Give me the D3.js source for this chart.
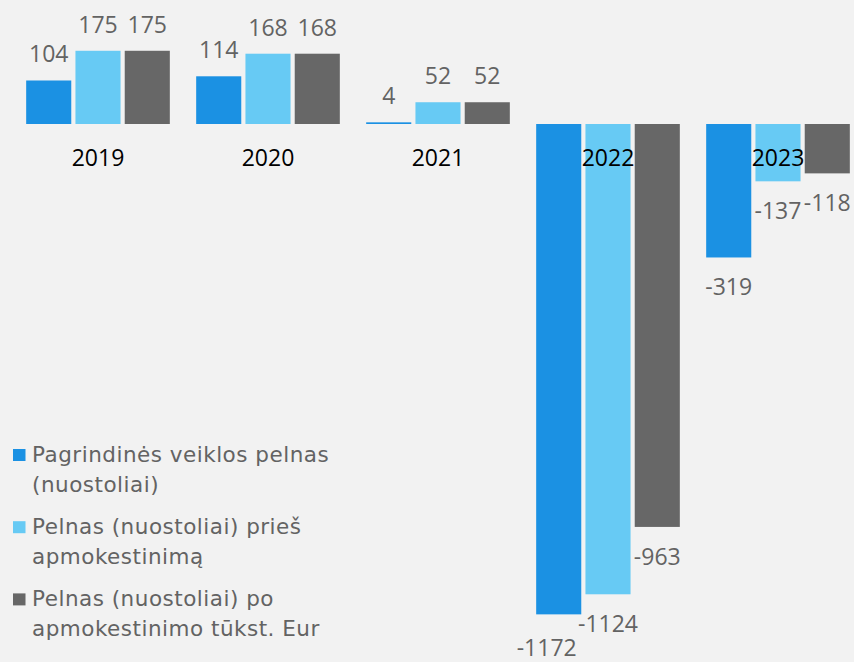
<!DOCTYPE html>
<html>
<head>
<meta charset="utf-8">
<script src="https://cdn.jsdelivr.net/npm/d3@7"></script>
<style>
  html, body { margin: 0; padding: 0; background: #f2f2f2; }
  svg { display: block; }
</style>
</head>
<body>
<svg id="chart" width="854" height="662"></svg>
<script>
const years = ["2019", "2020", "2021", "2022", "2023"];
const seriesNames = [
  ["Pagrindinės veiklos pelnas", "(nuostoliai)"],
  ["Pelnas (nuostoliai) prieš", "apmokestinimą"],
  ["Pelnas (nuostoliai) po", "apmokestinimo tūkst. Eur"]
];
const operatingProfit = [104, 114, 4, -1172, -319];
const profitBeforeTax = [175, 168, 52, -1124, -137];
const profitAfterTax = [175, 168, 52, -963, -118];
const colors = ["#1b91e3", "#67caf4", "#676767"];

const svg = d3.select("#chart");
const width = +svg.attr("width");
const height = +svg.attr("height");

const series = [operatingProfit, profitBeforeTax, profitAfterTax];
const rows = years.map((yr, i) => ({
  year: yr,
  values: series.map((s, j) => ({ key: j, value: s[i], year: yr }))
}));

const x0 = d3.scaleBand().domain(years).range([13, 863]).paddingInner(0.155).paddingOuter(0.0775);
const x1 = d3.scaleBand().domain([0, 1, 2]).range([0, x0.bandwidth()]).paddingInner(0.085);

const zeroY = 124;
const k = 0.4184;
const y = d3.scaleLinear().domain([-1400, 200]).range([zeroY + 1400 * k, zeroY - 200 * k]);

const g = svg.append("g");

const groups = g.selectAll("g.year")
  .data(rows)
  .join("g")
  .attr("class", "year")
  .attr("transform", (d) => `translate(${x0(d.year)},0)`);

groups.selectAll("rect")
  .data((d) => d.values)
  .join("rect")
  .attr("x", (d) => x1(d.key))
  .attr("width", x1.bandwidth())
  .attr("y", (d) => y(Math.max(0, d.value)))
  .attr("height", (d) => Math.max(1, Math.abs(y(d.value) - y(0))))
  .attr("fill", (d) => colors[d.key]);

// manual nudge of one label, as in the original
const nudge = { "2022-0": [-12, 4] };

groups.selectAll("text.val")
  .data((d) => d.values)
  .join("text")
  .attr("class", "val")
  .attr("x", (d) => x1(d.key) + x1.bandwidth() / 2 + (nudge[d.year + "-" + d.key] || [0, 0])[0])
  .attr("y", (d) => (d.value >= 0 ? y(d.value) - 18 : y(d.value) + 38) + (nudge[d.year + "-" + d.key] || [0, 0])[1])
  .attr("text-anchor", "middle")
  .attr("font-family", "'Open Sans', sans-serif")
  .attr("font-size", 23)
  .attr("fill", "#636363")
  .text((d) => d.value);

g.selectAll("text.yr")
  .data(years)
  .join("text")
  .attr("class", "yr")
  .attr("x", (d) => x0(d) + x0.bandwidth() / 2)
  .attr("y", 166)
  .attr("text-anchor", "middle")
  .attr("font-family", "'Open Sans', sans-serif")
  .attr("font-size", 23)
  .attr("fill", "#000")
  .text((d) => d);

// legend
const legend = svg.append("g").attr("transform", "translate(13,462)");
const items = legend.selectAll("g")
  .data(seriesNames)
  .join("g")
  .attr("transform", (d, i) => `translate(0,${i * 72.2})`);

items.append("rect")
  .attr("x", 0)
  .attr("y", -13)
  .attr("width", 12.5)
  .attr("height", 12)
  .attr("fill", (d, i) => colors[i]);

items.append("text")
  .attr("font-family", "'DejaVu Sans', sans-serif")
  .attr("font-size", 21.5)
  .attr("letter-spacing", 0.5)
  .attr("fill", "#636363")
  .selectAll("tspan")
  .data((d) => d)
  .join("tspan")
  .attr("x", 19)
  .attr("y", (d, i) => i * 30)
  .text((d) => d);
</script>
</body>
</html>
